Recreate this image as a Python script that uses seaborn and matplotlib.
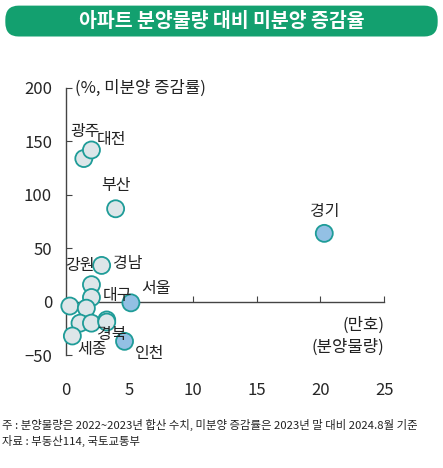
import pandas as pd
import seaborn as sns
import matplotlib.pyplot as plt
from matplotlib.patches import FancyBboxPatch

sns.set_style("white")
plt.rcParams['font.family'] = ['Noto Sans CJK KR', 'DejaVu Sans']

# 분양물량 (만호), 미분양 증감률 (%)
regions = ["광주", "대전", "부산", "강원", "r1", "대구", "세종a", "r2", "r3", "r4", "r5", "경북", "세종", "서울", "인천", "경기"]
supply = [1.4, 2.0, 3.9, 2.8, 2.0, 2.0, 0.3, 1.6, 1.1, 2.0, 3.2, 3.2, 0.5, 5.1, 4.6, 20.3]
change = [134, 142, 87, 34, 16, 4, -4, -6, -20, -20, -17, -19, -32, -1, -37, 64]
group = ["기타"] * 13 + ["수도권"] * 3

df = pd.DataFrame({"region": regions, "supply": supply, "change": change, "group": group})

fig = plt.figure(figsize=(4.43, 4.68), dpi=100)
ax = fig.add_axes([0.149, 0.241, 0.718, 0.571])

sns.scatterplot(data=df, x="supply", y="change", hue="group",
                palette={"기타": "#dde6e9", "수도권": "#93c0e4"},
                edgecolor="#1f9c98", linewidth=1.3, s=150, legend=False,
                ax=ax, clip_on=False, zorder=3)

ax.set_xlim(0, 25)
ax.set_ylim(-50, 200)
ax.set_xticks([0, 5, 10, 15, 20, 25])
ax.set_yticks([-50, 0, 50, 100, 150, 200])
ax.set_xlabel("")
ax.set_ylabel("")
for s in ["top", "right"]:
    ax.spines[s].set_visible(False)
ax.spines["bottom"].set_position(("data", 0))
for s in ["left", "bottom"]:
    ax.spines[s].set_color("#444444")
    ax.spines[s].set_linewidth(1.0)
ax.tick_params(axis="x", direction="in", length=4, pad=58, labelsize=12, color="#444444")
ax.tick_params(axis="y", direction="in", length=4, pad=10, labelsize=12, color="#444444")
ax.tick_params(left=True, bottom=True)

labels = [("광주", 1.5, 159, "center"), ("대전", 2.4, 152, "left"),
          ("부산", 3.9, 109, "center"), ("강원", 1.1, 34, "center"),
          ("경남", 3.7, 36, "left"), ("대구", 2.9, 6, "left"),
          ("서울", 5.9, 12, "left"), ("경북", 2.4, -31, "left"),
          ("세종", 0.9, -45, "left"), ("인천", 5.4, -48, "left"),
          ("경기", 20.3, 84, "center")]
for t, x, y, ha in labels:
    ax.text(x, y, t, ha=ha, va="center", fontsize=11.5, color="#222222", zorder=4)

ax.text(0.7, 200, "(%, 미분양 증감률)", ha="left", va="center", fontsize=12, color="#222222")
ax.text(25, -22, "(만호)", ha="right", va="center", fontsize=12, color="#222222")
ax.text(25, -43, "(분양물량)", ha="right", va="center", fontsize=12, color="#222222")

box = FancyBboxPatch((0.012, 0.922), 0.976, 0.066, boxstyle="round,pad=0,rounding_size=0.03",
                     transform=fig.transFigure, facecolor="#13a06f", edgecolor="none")
fig.patches.append(box)
fig.text(0.5, 0.955, "아파트 분양물량 대비 미분양 증감율", ha="center", va="center",
         fontsize=14, fontweight="bold", color="white")

fig.text(0.005, 0.093, "주 : 분양물량은 2022~2023년 합산 수치, 미분양 증감률은 2023년 말 대비 2024.8월 기준",
         fontsize=8.2, color="#222222", va="center")
fig.text(0.005, 0.058, "자료 : 부동산114, 국토교통부", fontsize=8.2, color="#222222", va="center")

fig.savefig("out.png", dpi=100)
